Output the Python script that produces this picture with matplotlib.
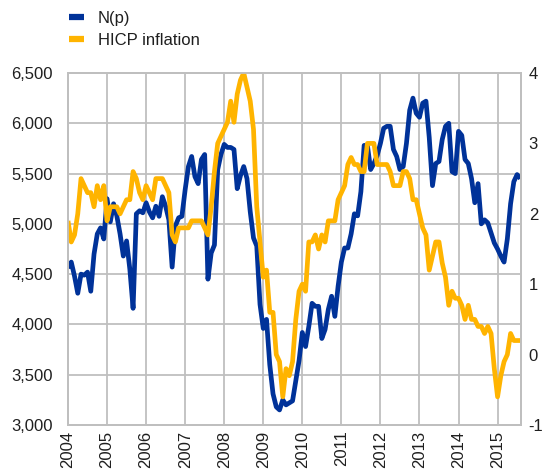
import numpy as np
import matplotlib
matplotlib.use("Agg")
import matplotlib.pyplot as plt

plt.rcParams["font.family"] = ["Liberation Sans", "DejaVu Sans"]

# monthly observations, Jan 2004 - Aug 2015
start_year = 2004
years = list(range(2004, 2016))

n_p = [
    # 2004
    4560, 4620, 4480, 4310, 4500, 4490, 4520, 4330, 4700, 4900, 4960, 4850,
    # 2005
    5250, 5020, 5200, 5080, 4900, 4680, 4830, 4550, 4160, 5100, 5130, 5110,
    # 2006
    5210, 5120, 5060, 5175, 5075, 5270, 5175, 5040, 4570, 4980, 5060, 5075,
    # 2007
    5340, 5570, 5670, 5470, 5400, 5640, 5690, 4450, 4710, 4790, 5540, 5690,
    # 2008
    5790, 5760, 5760, 5740, 5350, 5480, 5570, 5450, 5120, 4860, 4780, 4200,
    # 2009
    3960, 4050, 3600, 3310, 3180, 3150, 3250, 3200, 3220, 3240, 3440, 3640,
    # 2010
    3920, 3780, 3980, 4210, 4180, 4180, 3860, 3950, 4150, 4280, 4080, 4380,
    # 2011
    4620, 4760, 4760, 4900, 5100, 5080, 5320, 5780, 5780, 5540, 5600, 5680,
    # 2012
    5800, 5950, 5970, 5970, 5740, 5670, 5540, 5570, 5800, 6130, 6250, 6100,
    # 2013
    6060, 6200, 6220, 5860, 5380, 5600, 5620, 5840, 5970, 6000, 5520, 5500,
    # 2014
    5920, 5880, 5640, 5600, 5450, 5210, 5400, 5000, 5040, 5010, 4910, 4810,
    # 2015
    4750, 4680, 4620, 4850, 5200, 5420, 5490, 5450,
]

hicp = [
    # 2004
    1.9, 1.6, 1.7, 2.0, 2.5, 2.4, 2.3, 2.3, 2.1, 2.4, 2.2, 2.4,
    # 2005
    1.9, 2.1, 2.1, 2.1, 2.0, 2.1, 2.2, 2.2, 2.6, 2.5, 2.3, 2.2,
    # 2006
    2.4, 2.3, 2.2, 2.5, 2.5, 2.5, 2.4, 2.3, 1.7, 1.6, 1.8, 1.8,
    # 2007
    1.8, 1.8, 1.9, 1.9, 1.9, 1.9, 1.8, 1.7, 2.1, 2.6, 3.0, 3.1,
    # 2008
    3.2, 3.3, 3.6, 3.3, 3.7, 3.9, 4.0, 3.8, 3.6, 3.2, 2.1, 1.6,
    # 2009
    1.1, 1.2, 0.6, 0.6, 0.0, -0.1, -0.6, -0.2, -0.3, -0.1, 0.5, 0.9,
    # 2010
    1.0, 0.9, 1.6, 1.6, 1.7, 1.5, 1.7, 1.6, 1.9, 1.9, 1.9, 2.2,
    # 2011
    2.3, 2.4, 2.7, 2.8, 2.7, 2.7, 2.6, 2.6, 3.0, 3.0, 3.0, 2.7,
    # 2012
    2.7, 2.7, 2.7, 2.6, 2.4, 2.4, 2.4, 2.6, 2.6, 2.5, 2.2, 2.2,
    # 2013
    2.0, 1.8, 1.7, 1.2, 1.4, 1.6, 1.6, 1.3, 1.1, 0.7, 0.9, 0.8,
    # 2014
    0.8, 0.7, 0.5, 0.7, 0.5, 0.5, 0.4, 0.4, 0.3, 0.4, 0.3, -0.2,
    # 2015
    -0.6, -0.3, -0.1, 0.0, 0.3, 0.2, 0.2, 0.2,
]

left_ticks = [3000, 3500, 4000, 4500, 5000, 5500, 6000, 6500]
right_ticks = [-1, 0, 1, 2, 3, 4]

blue = "#003299"
yellow = "#FFB400"
grid_col = "#BFBFBF"
text_col = "#1f1f1f"

x = start_year + np.arange(len(n_p)) / 12.0

fig = plt.figure(figsize=(5.46, 4.70), dpi=100)
ax = fig.add_axes([68 / 546, 1 - 425 / 470, 453 / 546, 352 / 470])
ax2 = ax.twinx()

l1, = ax.plot(x, n_p, color=blue, lw=3.4, solid_joinstyle="round",
              solid_capstyle="butt", label="N(p)")
l2, = ax2.plot(x, hicp, color=yellow, lw=3.4, solid_joinstyle="round",
               solid_capstyle="butt", label="HICP inflation")

ax.set_xlim(2004, 2015.6)
ax.set_ylim(3000, 6500)
ax2.set_ylim(-1, 4)

ax.set_xticks(years)
ax.set_xticklabels([str(y) for y in years], rotation=90)
ax.set_yticks(left_ticks)
ax.set_yticklabels(["{:,}".format(v) for v in left_ticks])
ax2.set_yticks(right_ticks)
ax2.set_yticklabels([str(v) for v in right_ticks])

ax.grid(True, color=grid_col, lw=1.3)
ax.set_axisbelow(True)
for a in (ax, ax2):
    for s in a.spines.values():
        s.set_color(grid_col)
        s.set_linewidth(1.3)
ax.tick_params(axis="both", length=0, labelsize=12, colors=text_col)
ax.tick_params(axis="y", pad=11)
ax.tick_params(axis="x", pad=4)
ax2.tick_params(axis="y", length=0, labelsize=12, colors=text_col, pad=5.5)

leg = fig.legend(handles=[l1, l2], loc="upper left",
                 bbox_to_anchor=(62 / 546, 1 - 4 / 470), frameon=False,
                 fontsize=12, handlelength=0.9, handletextpad=0.85,
                 labelspacing=0.45, borderaxespad=0)
for h in leg.legend_handles:
    h.set_linewidth(4.5)
for t in leg.get_texts():
    t.set_color(text_col)

fig.savefig("out.png", dpi=100)
